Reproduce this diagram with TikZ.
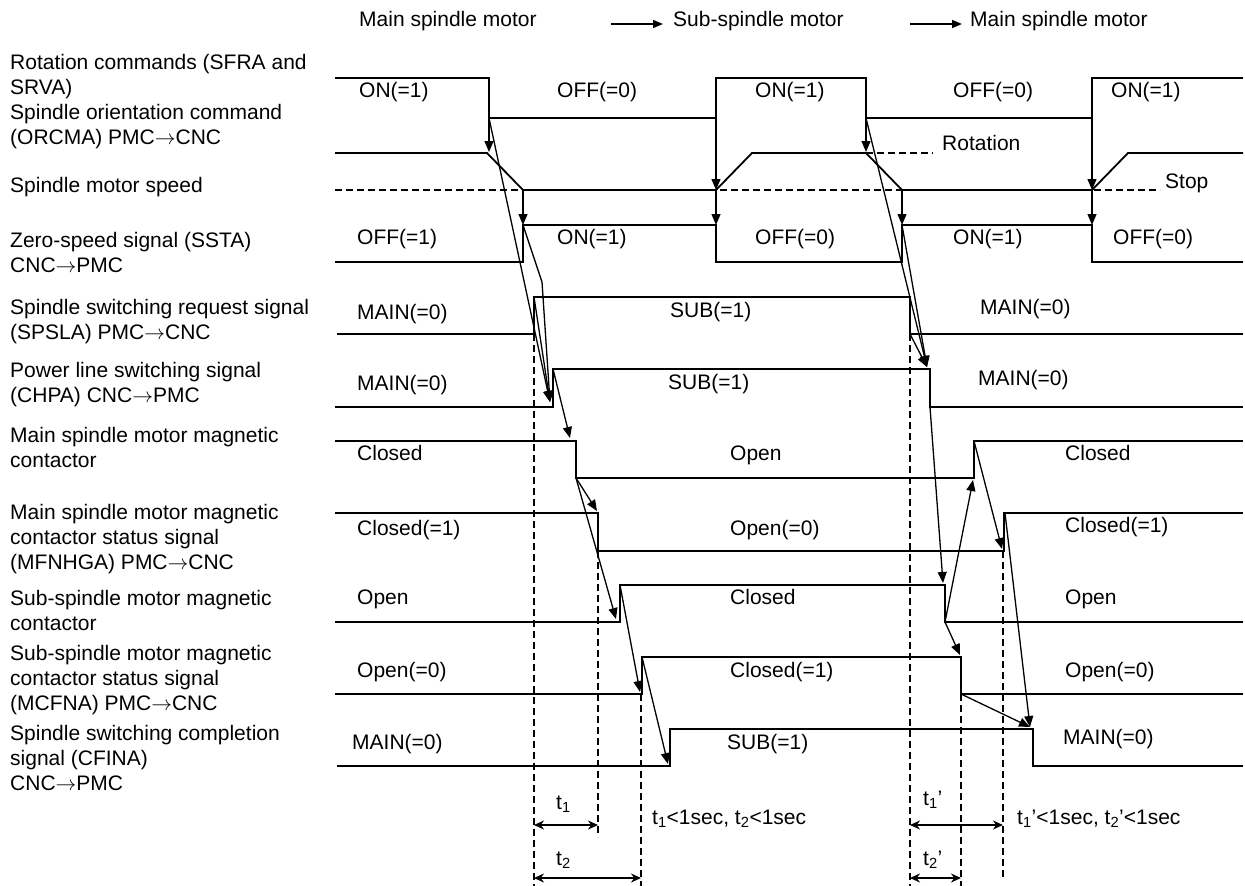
\documentclass[tikz,border=0pt]{standalone}
\usepackage{fontspec}
\setmainfont{Liberation Sans}
\usetikzlibrary{arrows.meta}

\tikzset{
  sig/.style={line width=1.8pt},
  cause/.style={line width=1.3pt, -{Triangle[length=11pt,width=9pt]}},
  guide/.style={line width=1.3pt, dash pattern=on 7pt off 4pt},
  tspan/.style={line width=1.5pt, {Stealth[length=10pt,width=9pt]}-{Stealth[length=10pt,width=9pt]}},
  lbl/.style={anchor=north west, align=left, inner sep=0pt},
  val/.style={anchor=west, inner sep=0pt, text height=15pt, text depth=0pt},
}

\begin{document}
\begin{tikzpicture}[x=1pt, y=-1pt, font=\fontsize{21}{25}\selectfont]
  \useasboundingbox (0,0) rectangle (1245,886);

  % title row
  \node[val] (ttlMain) at (359,19) {Main spindle motor};
  \node[val] (ttlSub) at (673,19) {Sub-spindle motor};
  \node[val] (ttlBack) at (970,19) {Main spindle motor};
  \coordinate (arrA) at (611,24);
  \coordinate (arrB) at (910,24);
  \draw[line width=1.5pt, -{Triangle[length=10pt,width=8pt]}, shorten >=10pt] (arrA) -- (arrA -| ttlSub.west);
  \draw[line width=1.5pt, -{Triangle[length=10pt,width=8pt]}, shorten >=8pt] (arrB) -- (arrB -| ttlBack.west);

  % signal names
  \node[lbl] (lRot) at (10,52) {\strut Rotation commands (SFRA and\\SRVA)};
  \node[lbl] (lOri) at (10,102) {\strut Spindle orientation command\\(ORCMA) PMC$\rightarrow$CNC};
  \node[lbl] (lSpd) at (10,175) {\strut Spindle motor speed};
  \node[lbl] (lZero) at (10,230) {\strut Zero-speed signal (SSTA)\\CNC$\rightarrow$PMC};
  \node[lbl] (lReq) at (10,297) {\strut Spindle switching request signal\\(SPSLA) PMC$\rightarrow$CNC};
  \node[lbl] (lPow) at (10,360) {\strut Power line switching signal\\(CHPA) CNC$\rightarrow$PMC};
  \node[lbl] (lMmc) at (10,425) {\strut Main spindle motor magnetic\\contactor};
  \node[lbl] (lMfn) at (10,502) {\strut Main spindle motor magnetic\\contactor status signal\\(MFNHGA) PMC$\rightarrow$CNC};
  \node[lbl] (lSmc) at (10,588) {\strut Sub-spindle motor magnetic\\contactor};
  \node[lbl] (lMcf) at (10,643) {\strut Sub-spindle motor magnetic\\contactor status signal\\(MCFNA) PMC$\rightarrow$CNC};
  \node[lbl] (lCfin) at (10,723) {\strut Spindle switching completion\\signal (CFINA)\\CNC$\rightarrow$PMC};

  % waveforms
  \draw[sig] (335,78) -- (489,78) -- (489,118) -- (716,118) -- (716,78) -- (866,78)
    -- (866,118) -- (1092,118) -- (1092,78) -- (1243,78);
  \draw[guide] (335,190) -- (1160,190);
  \draw[guide] (866,153) -- (933,153);
  \draw[sig] (335,153) -- (487,153) -- (523,190) -- (716,190) -- (752,153) -- (866,153)
    -- (902,190) -- (1092,190) -- (1128,153) -- (1243,153);
  \draw[sig] (335,262) -- (523,262) -- (523,225) -- (716,225) -- (716,262) -- (902,262)
    -- (902,225) -- (1092,225) -- (1092,262) -- (1243,262);
  \draw[sig] (337,334) -- (534,334) -- (534,297) -- (910,297) -- (910,334) -- (1243,334);
  \draw[sig] (335,407) -- (553,407) -- (553,369) -- (930,369) -- (930,407) -- (1243,407);
  \draw[sig] (335,441) -- (576,441) -- (576,478) -- (974,478) -- (974,441) -- (1243,441);
  \draw[sig] (335,513) -- (598,513) -- (598,551) -- (1004,551) -- (1004,513) -- (1243,513);
  \draw[sig] (335,622) -- (620,622) -- (620,585) -- (945,585) -- (945,622) -- (1243,622);
  \draw[sig] (335,694) -- (642,694) -- (642,657) -- (961,657) -- (961,694) -- (1243,694);
  \draw[sig] (337,766) -- (670,766) -- (670,729) -- (1033,729) -- (1033,766) -- (1243,766);

  % levels
  \node[val] (r1) at (359,90) {ON(=1)};
  \node[val] (r2) at (557,90) {OFF(=0)};
  \node[val] (r3) at (755,90) {ON(=1)};
  \node[val] (r4) at (953,90) {OFF(=0)};
  \node[val] (r5) at (1111,90) {ON(=1)};
  \node[val] (sRot) at (942,143) {Rotation};
  \node[val] (sStop) at (1165,181) {Stop};
  \node[val] (z1) at (357,237) {OFF(=1)};
  \node[val] (z2) at (557,237) {ON(=1)};
  \node[val] (z3) at (755,237) {OFF(=0)};
  \node[val] (z4) at (953,237) {ON(=1)};
  \node[val] (z5) at (1113,237) {OFF(=0)};
  \node[val] (q1) at (357,312) {MAIN(=0)};
  \node[val] (q2) at (670,310) {SUB(=1)};
  \node[val] (q3) at (980,307) {MAIN(=0)};
  \node[val] (c1) at (357,383) {MAIN(=0)};
  \node[val] (c2) at (668,382) {SUB(=1)};
  \node[val] (c3) at (978,378) {MAIN(=0)};
  \node[val] (m1) at (357,453) {Closed};
  \node[val] (m2) at (730,453) {Open};
  \node[val] (m3) at (1065,453) {Closed};
  \node[val] (f1) at (357,528) {Closed(=1)};
  \node[val] (f2) at (730,528) {Open(=0)};
  \node[val] (f3) at (1065,525) {Closed(=1)};
  \node[val] (b1) at (357,597) {Open};
  \node[val] (b2) at (730,597) {Closed};
  \node[val] (b3) at (1065,597) {Open};
  \node[val] (n1) at (357,670) {Open(=0)};
  \node[val] (n2) at (730,670) {Closed(=1)};
  \node[val] (n3) at (1065,670) {Open(=0)};
  \node[val] (e1) at (352,742) {MAIN(=0)};
  \node[val] (e2) at (727,742) {SUB(=1)};
  \node[val] (e3) at (1063,737) {MAIN(=0)};

  % main -> sub
  \coordinate (rotOff1) at (489,118);
  \coordinate (spdDn1) at (489,152);
  \coordinate (spdZero1) at (523,190);
  \coordinate (sstaOn1) at (523,225);
  \coordinate (rotOn1) at (716,118);
  \coordinate (spdUp1) at (716,190);
  \coordinate (sstaOff1) at (716,225);
  \coordinate (kink1) at (542,282);
  \coordinate (reqOn) at (534,297);
  \coordinate (chpaOn) at (550,402);
  \coordinate (chpaHi) at (553,369);
  \coordinate (mmcOpen) at (570,438);
  \coordinate (mmcLo) at (576,478);
  \coordinate (mfnOff) at (597,511);
  \coordinate (smcClose) at (616,619);
  \coordinate (smcHi) at (620,585);
  \coordinate (mcfOn) at (640,692);
  \coordinate (mcfHi) at (642,657);
  \coordinate (cfinOn) at (668,764);
  \draw[cause] (rotOff1) -- (spdDn1);
  \draw[cause] (spdZero1) -- (sstaOn1);
  \draw[cause] (rotOn1) -- (spdUp1);
  \draw[cause] (spdUp1) -- (sstaOff1);
  \draw[cause] (rotOff1) -- (chpaOn);
  \draw[cause] (sstaOn1) -- (kink1) -- (chpaOn);
  \draw[cause] (reqOn) -- (chpaOn);
  \draw[cause] (chpaHi) -- (mmcOpen);
  \draw[cause] (mmcLo) -- (mfnOff);
  \draw[cause] (mmcLo) -- (smcClose);
  \draw[cause] (smcHi) -- (mcfOn);
  \draw[cause] (mcfHi) -- (cfinOn);

  % sub -> main
  \coordinate (rotOff2) at (866,118);
  \coordinate (spdDn2) at (866,152);
  \coordinate (spdZero2) at (902,190);
  \coordinate (sstaOn2) at (902,225);
  \coordinate (rotOn2) at (1092,118);
  \coordinate (spdUp2) at (1092,190);
  \coordinate (sstaOff2) at (1092,225);
  \coordinate (reqOff) at (910,334);
  \coordinate (chpaOff) at (927,367);
  \coordinate (chpaLo) at (930,407);
  \coordinate (smcOpen) at (943,583);
  \coordinate (smcLo) at (945,622);
  \coordinate (mmcClose) at (973,480);
  \coordinate (mmcHi) at (974,441);
  \coordinate (mfnOn) at (1002,549);
  \coordinate (mcfOff) at (960,655);
  \coordinate (mfnHi) at (1005,513);
  \coordinate (mcfLo) at (961,694);
  \coordinate (cfinOff) at (1030,727);
  \draw[cause] (rotOff2) -- (spdDn2);
  \draw[cause] (spdZero2) -- (sstaOn2);
  \draw[cause] (rotOn2) -- (spdUp2);
  \draw[cause] (spdUp2) -- (sstaOff2);
  \draw[cause] (rotOff2) -- (chpaOff);
  \draw[cause] (sstaOn2) -- (chpaOff);
  \draw[cause] (reqOff) -- (chpaOff);
  \draw[cause] (chpaLo) -- (smcOpen);
  \draw[cause] (smcLo) -- (mmcClose);
  \draw[cause] (mmcHi) -- (mfnOn);
  \draw[cause] (smcLo) -- (mcfOff);
  \draw[cause] (mfnHi) -- (cfinOff);
  \draw[cause] (mcfLo) -- (cfinOff);

  % switching times
  \draw[guide] (534,334) -- (534,886);
  \draw[guide] (598,551) -- (598,837);
  \draw[guide] (641,694) -- (641,886);
  \draw[guide] (910,334) -- (910,886);
  \draw[guide] (961,694) -- (961,886);
  \draw[guide] (1003,551) -- (1003,878);
  \draw[tspan] (534,825) -- (598,825);
  \draw[tspan] (534,878) -- (641,878);
  \draw[tspan] (910,825) -- (1003,825);
  \draw[tspan] (910,878) -- (961,878);
  \node[val] (t1) at (556,802) {t\textsubscript{1}};
  \node[val] (t2) at (556,858) {t\textsubscript{2}};
  \node[val] (tLim) at (652,817) {t\textsubscript{1}<1sec, t\textsubscript{2}<1sec};
  \node[val] (t1b) at (923,798) {t\textsubscript{1}'};
  \node[val] (t2b) at (923,858) {t\textsubscript{2}'};
  \node[val] (tLimb) at (1017,817) {t\textsubscript{1}'<1sec, t\textsubscript{2}'<1sec};
\end{tikzpicture}
\end{document}
